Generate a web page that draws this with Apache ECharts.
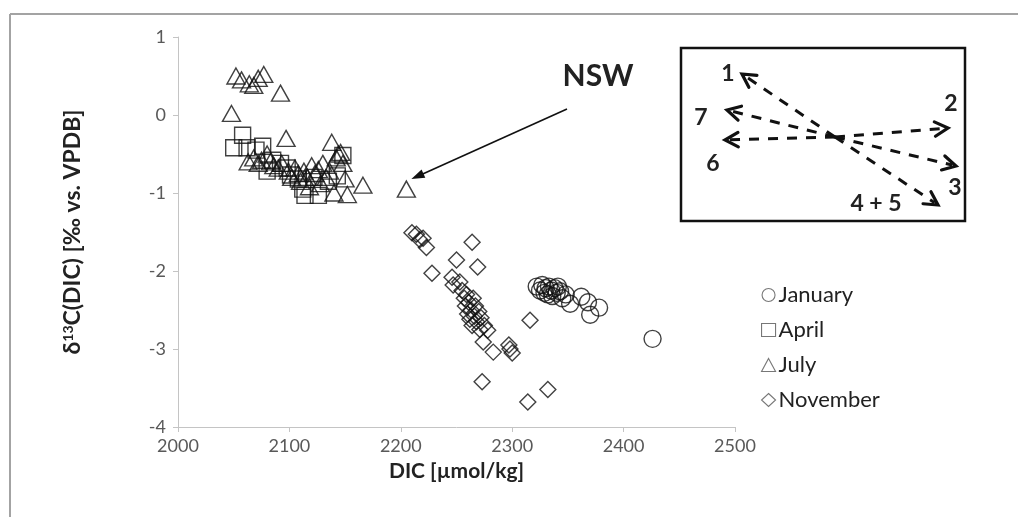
<!DOCTYPE html>
<html>
<head>
<meta charset="utf-8">
<script src="https://cdn.jsdelivr.net/npm/echarts@6/dist/echarts.min.js"></script>
<style>
  html, body { margin: 0; padding: 0; background: #fff; }
  #chart { width: 1018px; height: 517px; }
</style>
</head>
<body>
<div id="chart"></div>
<script>
// DIC [µmol/kg] vs. δ13C(DIC) [‰ vs. VPDB], one array per sampling month
const january = [
  [2322, -2.20], [2325, -2.25], [2327, -2.18], [2329, -2.28], [2330, -2.22],
  [2332, -2.30], [2333, -2.20], [2335, -2.25], [2336, -2.32], [2338, -2.22],
  [2340, -2.28], [2341, -2.20], [2343, -2.26], [2345, -2.35], [2348, -2.30],
  [2352, -2.42], [2362, -2.33], [2368, -2.40], [2370, -2.56], [2378, -2.47],
  [2426, -2.87]
];
const april = [
  [2050, -0.42], [2058, -0.26], [2062, -0.42], [2070, -0.45], [2076, -0.40],
  [2080, -0.72], [2085, -0.58], [2092, -0.62], [2098, -0.68], [2101, -0.77],
  [2108, -0.82], [2112, -0.95], [2114, -1.03], [2122, -0.80], [2126, -1.03],
  [2135, -0.85], [2143, -0.78], [2148, -0.52]
];
const july = [
  [2048, 0.02], [2052, 0.50], [2057, 0.45], [2064, 0.40], [2068, 0.38],
  [2072, 0.47], [2077, 0.52], [2092, 0.28],
  [2063, -0.60], [2068, -0.55], [2072, -0.62], [2075, -0.58], [2080, -0.50],
  [2083, -0.60], [2086, -0.65], [2090, -0.68], [2093, -0.62], [2097, -0.30],
  [2099, -0.72], [2102, -0.80], [2105, -0.68], [2108, -0.75], [2110, -0.85],
  [2113, -0.72], [2116, -0.80], [2118, -0.92], [2120, -0.65], [2123, -0.75],
  [2126, -0.70], [2128, -0.88], [2130, -0.62], [2133, -0.80], [2136, -0.72],
  [2138, -0.35], [2140, -1.00], [2142, -0.55], [2144, -0.50], [2146, -0.48],
  [2148, -0.62], [2150, -0.82], [2152, -1.02], [2166, -0.90], [2205, -0.95]
];
const november = [
  [2210, -1.51], [2214, -1.53], [2217, -1.60], [2220, -1.58], [2223, -1.70],
  [2228, -2.03], [2246, -2.08], [2247, -2.18], [2250, -1.86], [2253, -2.14],
  [2255, -2.25], [2257, -2.35], [2258, -2.45], [2259, -2.30], [2260, -2.55],
  [2261, -2.40], [2262, -2.62], [2263, -2.50], [2264, -2.70], [2264, -1.63],
  [2265, -2.35], [2266, -2.58], [2267, -2.45], [2268, -2.65], [2269, -1.95],
  [2270, -2.52], [2271, -2.75], [2272, -2.60], [2274, -2.91], [2275, -2.70],
  [2278, -2.76], [2283, -3.04], [2297, -2.95], [2298, -3.00], [2300, -3.05],
  [2316, -2.63], [2273, -3.42], [2314, -3.68], [2332, -3.52]
];
const monthNames = ['January', 'April', 'July', 'November'];
// station pointed out by the annotation arrow
const nswPoint = [2205, -0.95];

const FONT = 'Lato, "Open Sans", sans-serif';
const chart = echarts.init(document.getElementById('chart'), null, { renderer: 'canvas' });

function month(name, data, symbol, size) {
  return {
    name: name,
    type: 'scatter',
    data: data,
    symbol: symbol,
    symbolSize: size,
    itemStyle: { color: 'rgba(0,0,0,0)', borderColor: '#111', borderWidth: 1.4 },
    emphasis: { disabled: true }
  };
}

chart.setOption({
  animation: false,
  backgroundColor: '#fff',
  grid: { left: 178, right: 283, top: 37, bottom: 90 },
  xAxis: {
    type: 'value', min: 2000, max: 2500, interval: 100,
    name: 'DIC [µmol/kg]', nameLocation: 'middle', nameGap: 34,
    nameTextStyle: { fontFamily: FONT, fontSize: 21, fontWeight: 'bold', color: '#222' },
    axisLine: { onZero: false, lineStyle: { color: '#c4c4c4', width: 1 } },
    axisTick: { show: true, length: 5, lineStyle: { color: '#c4c4c4' } },
    axisLabel: { fontFamily: FONT, fontSize: 18, color: '#595959', margin: 10,
      formatter: function (v) { return String(v); } },
    splitLine: { show: false }
  },
  yAxis: {
    type: 'value', min: -4, max: 1, interval: 1,
    name: '{b|δ}{s|13}{b|C(DIC) [‰ vs. VPDB]}', nameLocation: 'middle', nameGap: 93,
    nameRotate: 90,
    nameTextStyle: {
      rich: {
        b: { fontFamily: FONT, fontSize: 23, fontWeight: 'bold', color: '#222' },
        s: { fontFamily: FONT, fontSize: 14, fontWeight: 'bold', color: '#222', verticalAlign: 'top', padding: [0, 0, 10, 0] }
      }
    },
    axisLine: { show: true, onZero: false, lineStyle: { color: '#c4c4c4', width: 1 } },
    axisTick: { show: true, length: 5, lineStyle: { color: '#c4c4c4' } },
    axisLabel: { fontFamily: FONT, fontSize: 18, color: '#595959', margin: 12 },
    splitLine: { show: false }
  },
  legend: {
    orient: 'vertical', left: 756, top: 279, itemGap: 13,
    itemWidth: 14, itemHeight: 13,
    data: monthNames,
    itemStyle: { color: 'rgba(0,0,0,0)', borderColor: '#555', borderWidth: 1.1 },
    textStyle: { fontFamily: FONT, fontSize: 22, color: '#222', lineHeight: 22, padding: [0, 0, 0, -2] }
  },
  series: [
    month(monthNames[0], january, 'circle', 17),
    month(monthNames[1], april, 'rect', 16),
    month(monthNames[2], july, 'triangle', [18, 16]),
    month(monthNames[3], november, 'diamond', [16, 16])
  ]
});

// annotations: outer frame, NSW arrow and the inset with direction arrows
function seg(x1, y1, x2, y2, style) {
  return { type: 'line', shape: { x1: x1, y1: y1, x2: x2, y2: y2 }, style: style, silent: true };
}
function dashedArrow(cx, cy, ex, ey) {
  const out = [];
  const st = { stroke: '#111', lineWidth: 3, lineDash: [10, 9] };
  const a = Math.atan2(ey - cy, ex - cx);
  out.push(seg(cx, cy, ex - 4 * Math.cos(a), ey - 4 * Math.sin(a), st));
  const L = 15, w = 0.5;
  const head = { stroke: '#111', lineWidth: 3.2, lineCap: 'round' };
  out.push({ type: 'polyline', silent: true, shape: { points: [
    [ex - L * Math.cos(a - w), ey - L * Math.sin(a - w)], [ex, ey],
    [ex - L * Math.cos(a + w), ey - L * Math.sin(a + w)]
  ] }, style: Object.assign({ fill: null }, head) });
  return out;
}
function label(txt, x, y, size) {
  return { type: 'text', silent: true, x: x, y: y, style: {
    text: txt, fill: '#222', font: 'bold ' + size + 'px ' + FONT, align: 'center', verticalAlign: 'middle'
  } };
}

const g = [];
// outer frame
g.push(seg(10, 14, 1018, 14, { stroke: '#a3a3a3', lineWidth: 2 }));
g.push(seg(10, 14, 10, 517, { stroke: '#a3a3a3', lineWidth: 2 }));

// NSW label and arrow aimed at the station's point
const p = chart.convertToPixel({ gridIndex: 0 }, nswPoint);
const tip = [p[0] + 5, p[1] - 10];
const start = [567, 109];
const ang = Math.atan2(tip[1] - start[1], tip[0] - start[0]);
g.push(seg(start[0], start[1], tip[0] - 10 * Math.cos(ang), tip[1] - 10 * Math.sin(ang), { stroke: '#111', lineWidth: 1.6 }));
g.push({ type: 'polygon', silent: true, shape: { points: [
  tip,
  [tip[0] - 14 * Math.cos(ang - 0.33), tip[1] - 14 * Math.sin(ang - 0.33)],
  [tip[0] - 14 * Math.cos(ang + 0.33), tip[1] - 14 * Math.sin(ang + 0.33)]
] }, style: { fill: '#111' } });
g.push(label('NSW', 598, 76, 30));

// inset box
g.push({ type: 'rect', silent: true, shape: { x: 681, y: 48, width: 284, height: 173 },
  style: { fill: '#fff', stroke: '#111', lineWidth: 2.5 } });
const c = [835, 137];
[[742, 74], [727, 110], [725, 140], [948, 128], [956, 166], [938, 205]].forEach(function (e) {
  dashedArrow(c[0], c[1], e[0], e[1]).forEach(function (el) { g.push(el); });
});
g.push(label('1', 728, 74, 23));
g.push(label('7', 701, 118, 23));
g.push(label('6', 713, 164, 23));
g.push(label('2', 951, 104, 23));
g.push(label('3', 955, 188, 23));
g.push(label('4 + 5', 876, 204, 23));

chart.setOption({ graphic: { elements: g } });
</script>
</body>
</html>
